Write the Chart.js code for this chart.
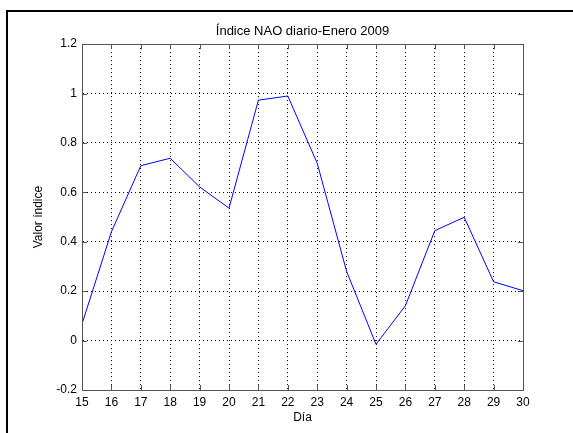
<!DOCTYPE html>
<html>
<head>
<meta charset="utf-8">
<script src="https://cdn.jsdelivr.net/npm/chart.js@4"></script>
<style>
  body { margin: 0; background: #fff; }
  #wrap { position: relative; width: 573px; height: 433px; }
  #frame {
    position: absolute; left: 6px; top: 10px; right: 0; bottom: 0;
    border-left: 2px solid #000; border-top: 2px solid #000;
  }
  canvas { position: absolute; left: 0; top: 0; }
</style>
</head>
<body>
<div id="wrap">
  <div id="frame"></div>
  <canvas id="naoChart" width="573" height="433"></canvas>
</div>
<script>
const days = [15, 16, 17, 18, 19, 20, 21, 22, 23, 24, 25, 26, 27, 28, 29, 30];
const naoValues = [0.067, 0.44, 0.708, 0.738, 0.622, 0.536, 0.973, 0.99, 0.718, 0.28, -0.015, 0.141, 0.445, 0.499, 0.238, 0.202];
const yTicks = [-0.2, 0, 0.2, 0.4, 0.6, 0.8, 1, 1.2];
const yTickLabels = ['-0.2', '0', '0.2', '0.4', '0.6', '0.8', '1', '1.2'];

const FONT = "'Liberation Sans', Arial, sans-serif";

// box around the plot + inward tick marks, matlab style
const boxPlugin = {
  id: 'box',
  afterDatasetsDraw(chart) {
    const { ctx, chartArea: a, scales } = chart;
    ctx.save();
    ctx.strokeStyle = '#555';
    ctx.lineWidth = 1;
    ctx.beginPath();
    scales.x.ticks.forEach(t => {
      const px = Math.round(scales.x.getPixelForValue(t.value)) + 0.5;
      ctx.moveTo(px, a.bottom); ctx.lineTo(px, a.bottom - 5);
      ctx.moveTo(px, a.top); ctx.lineTo(px, a.top + 5);
    });
    scales.y.ticks.forEach(t => {
      const py = Math.round(scales.y.getPixelForValue(t.value)) + 0.5;
      ctx.moveTo(a.left, py); ctx.lineTo(a.left + 5, py);
      ctx.moveTo(a.right, py); ctx.lineTo(a.right - 5, py);
    });
    ctx.stroke();
    ctx.strokeRect(Math.round(a.left) + 0.5, Math.round(a.top) + 0.5,
      Math.round(a.right - a.left), Math.round(a.bottom - a.top));
    ctx.restore();
  }
};

const ctx = document.getElementById('naoChart').getContext('2d');
new Chart(ctx, {
  type: 'line',
  data: {
    datasets: [{
      label: 'Índice NAO',
      data: days.map((d, i) => ({ x: d, y: naoValues[i] })),
      borderColor: '#0000ff',
      borderWidth: 1,
      pointRadius: 0,
      tension: 0,
      fill: false,
    }]
  },
  options: {
    responsive: false,
    animation: false,
    layout: { padding: { left: 0, right: 50, top: 0, bottom: 0 } },
    scales: {
      x: {
        type: 'linear',
        min: 15,
        max: 30,
        afterFit(scale) { scale.height = 43; },
        ticks: {
          stepSize: 1,
          padding: 5,
          color: '#000',
          font: { family: FONT, size: 12 },
          maxRotation: 0,
        },
        grid: { color: '#000', drawTicks: false },
        border: { color: '#555', dash: [1, 3] },
        title: {
          display: true,
          text: 'Día',
          color: '#000',
          font: { family: FONT, size: 12 },
          padding: { top: 0, bottom: 8 },
        },
      },
      y: {
        min: -0.2,
        max: 1.2,
        afterFit(scale) { scale.width = 82; },
        afterBuildTicks(scale) { scale.ticks = yTicks.map(v => ({ value: v })); },
        ticks: {
          padding: 5,
          color: '#000',
          font: { family: FONT, size: 12 },
          callback: (v) => yTickLabels[yTicks.findIndex(t => Math.abs(t - v) < 1e-9)],
        },
        grid: { color: '#000', drawTicks: false },
        border: { color: '#555', dash: [1, 3] },
        title: {
          display: true,
          text: 'Valor índice',
          color: '#000',
          font: { family: FONT, size: 12 },
          padding: { top: 31, bottom: 0 },
        },
      },
    },
    plugins: {
      legend: { display: false },
      tooltip: { enabled: false },
      title: {
        display: true,
        text: 'Índice NAO diario-Enero 2009',
        color: '#000',
        fullSize: false,
        font: { family: FONT, size: 13, weight: 'normal' },
        padding: { top: 23.5, bottom: 5 },
      },
    },
  },
  plugins: [boxPlugin],
});
</script>
</body>
</html>
